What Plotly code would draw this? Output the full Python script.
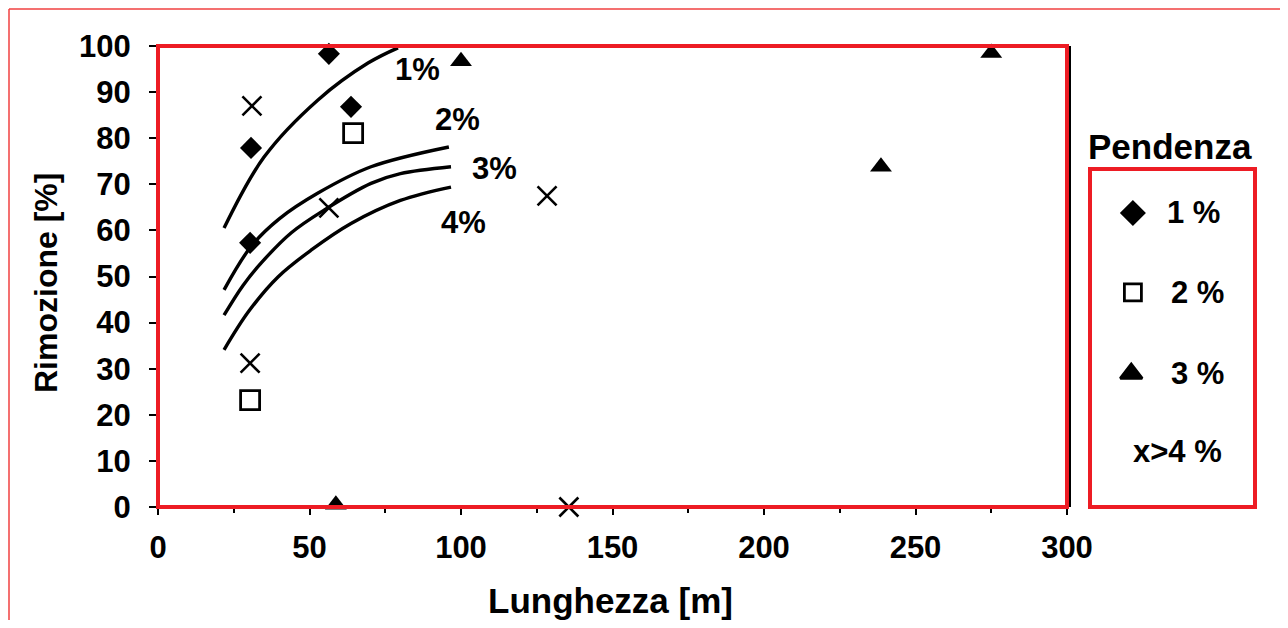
import plotly.graph_objects as go

# the page body adds an 8px margin, so the figure is slightly smaller than the window
OFF = 8
W, H = 1288 - 2 * OFF, 628 - 2 * OFF

# ---------------- data ----------------
s1_x = [56.4, 63.7, 30.7, 30.4]
s1_y = [98.3, 86.8, 77.9, 57.3]
s2_x = [64.4, 30.4]
s2_y = [81.1, 23.2]
s3_x = [100.0, 58.7, 238.6, 275.0]
s3_y = [96.7, 0.5, 73.8, 98.5]
s4_x = [31.0, 30.4, 56.4, 128.4, 135.6]
s4_y = [87.0, 31.2, 64.9, 67.5, 0.0]

c1_x = [21.8, 35.0, 52.8, 69.3, 79.2]
c1_y = [60.5, 75.9, 88.3, 96.3, 99.6]
c2_x = [21.8, 30.7, 40.0, 52.8, 70.3, 96.0]
c2_y = [47.1, 56.5, 62.5, 68.1, 73.8, 78.1]
c3_x = [21.8, 28.0, 34.0, 44.0, 54.8, 70.3, 80.0, 96.7]
c3_y = [41.6, 48.0, 52.9, 59.5, 64.4, 70.2, 72.3, 73.8]
c4_x = [21.8, 30.0, 39.6, 50.5, 63.7, 80.0, 96.7]
c4_y = [34.1, 42.5, 49.9, 55.7, 61.5, 66.5, 69.4]

curve_labels = ["1%", "2%", "3%", "4%"]
curve_label_x = [85.8, 99.0, 111.0, 100.7]
curve_label_y = [94.8, 84.0, 73.5, 61.8]

legend_labels = ["1 %", "2 %", "3 %", "x>4 %"]
x_ticks = [0, 50, 100, 150, 200, 250, 300]
y_ticks = [0, 10, 20, 30, 40, 50, 60, 70, 80, 90, 100]

RED = "#ED1C24"
FONT = "Liberation Sans, Arial, sans-serif"


def px(x):
    return (x - OFF) / W


def py(y):
    return 1 - (y - OFF) / H


fig = go.Figure()

# curves
for cx, cy in [(c1_x, c1_y), (c2_x, c2_y), (c3_x, c3_y), (c4_x, c4_y)]:
    fig.add_trace(go.Scatter(x=cx, y=cy, mode="lines",
                             line=dict(color="black", width=3.4, shape="spline", smoothing=1.0),
                             showlegend=False, hoverinfo="skip"))

# points
fig.add_trace(go.Scatter(x=s1_x, y=s1_y, mode="markers", cliponaxis=False,
                         marker=dict(symbol="diamond", size=17, color="black"),
                         showlegend=False))
fig.add_trace(go.Scatter(x=s2_x, y=s2_y, mode="markers", cliponaxis=False,
                         marker=dict(symbol="square-open", size=19, color="black",
                                     line=dict(width=2.8, color="black")),
                         showlegend=False))
fig.add_trace(go.Scatter(x=s3_x, y=s3_y, mode="markers", cliponaxis=False,
                         marker=dict(symbol="triangle-up", size=19, color="black"),
                         showlegend=False))
fig.add_trace(go.Scatter(x=s4_x, y=s4_y, mode="markers", cliponaxis=False,
                         marker=dict(symbol="x-thin-open", size=19, color="black",
                                     line=dict(width=2.6, color="black")),
                         showlegend=False))

# custom legend markers on secondary axes
leg_mx = [0.26, 0.26, 0.25]
leg_my = [0.87, 0.635, 0.395]
leg_sym = ["diamond", "square-open", "triangle-up"]
leg_size = [17, 17, 19]
for i in range(3):
    fig.add_trace(go.Scatter(x=[leg_mx[i]], y=[leg_my[i]], mode="markers",
                             xaxis="x2", yaxis="y2", cliponaxis=False,
                             marker=dict(symbol=leg_sym[i], size=leg_size[i], color="black",
                                         line=dict(width=2.8, color="black")),
                             showlegend=False, hoverinfo="skip"))

fig.update_layout(
    width=W, height=H, autosize=False,
    margin=dict(l=0, r=0, t=0, b=0, pad=0, autoexpand=False),
    paper_bgcolor="white", plot_bgcolor="white",
    showlegend=False,
    xaxis=dict(domain=[px(158), px(1067)], range=[0, 300], automargin=False,
               tickvals=x_ticks, ticktext=[str(v) for v in x_ticks],
               ticks="outside", ticklen=7, tickwidth=2, tickcolor="black",
               minor=dict(dtick=25, tick0=0, ticks="outside", ticklen=5, tickwidth=1.5, tickcolor="black"),
               showgrid=False, zeroline=False, showline=False,
               tickfont=dict(family=FONT, size=31, color="black", weight="bold"),
               ticklabelstandoff=6),
    yaxis=dict(domain=[py(507), py(46)], range=[0, 100], automargin=False,
               tickvals=y_ticks, ticktext=[str(v) for v in y_ticks],
               ticks="outside", ticklen=8, tickwidth=2, tickcolor="black",
               showgrid=False, zeroline=False, showline=False,
               tickfont=dict(family=FONT, size=31, color="black", weight="bold"),
               ticklabelstandoff=12),
    xaxis2=dict(domain=[px(1090), px(1255)], range=[0, 1], visible=False, anchor="y2",
                automargin=False),
    yaxis2=dict(domain=[py(507), py(169)], range=[0, 1], visible=False, anchor="x2",
                automargin=False),
)

shapes = [
    # black frame of the original chart peeking out on the right
    dict(type="line", xref="paper", yref="paper", x0=px(1070), x1=px(1070), y0=py(507), y1=py(46),
         line=dict(color="black", width=2)),
    # plot frame
    dict(type="rect", xref="paper", yref="paper", x0=px(158), x1=px(1067), y0=py(507), y1=py(46),
         line=dict(color=RED, width=4), layer="above"),
    # legend box
    dict(type="rect", xref="paper", yref="paper", x0=px(1090), x1=px(1255),
         y0=py(507), y1=py(169), line=dict(color=RED, width=4)),
    # thin outer frame
    dict(type="line", xref="paper", yref="paper", x0=px(9), x1=1.0, y0=py(9), y1=py(9),
         line=dict(color="#F04040", width=1.5)),
    dict(type="line", xref="paper", yref="paper", x0=px(9), x1=px(9), y0=py(9), y1=0,
         line=dict(color="#F04040", width=1.5)),
]
fig.update_layout(shapes=shapes)

ann = []
for t, x, y in zip(curve_labels, curve_label_x, curve_label_y):
    ann.append(dict(x=x, y=y, xref="x", yref="y", text=t, showarrow=False,
                    xanchor="center", yanchor="middle",
                    font=dict(family=FONT, size=31, color="black", weight="bold")))

ann.append(dict(x=px(610), y=py(600), xref="paper", yref="paper", text="Lunghezza [m]",
                xanchor="center", yanchor="middle", showarrow=False,
                font=dict(family=FONT, size=35, color="black", weight="bold")))
ann.append(dict(x=px(46), y=py(283), xref="paper", yref="paper", text="Rimozione [%]",
                xanchor="center", yanchor="middle", textangle=-90, showarrow=False,
                font=dict(family=FONT, size=32, color="black", weight="bold")))
ann.append(dict(x=px(1170), y=py(147), xref="paper", yref="paper", text="Pendenza",
                xanchor="center", yanchor="middle", showarrow=False,
                font=dict(family=FONT, size=35, color="black", weight="bold")))

leg_tx = [0.63, 0.65, 0.65, 0.53]
leg_ty = [0.87, 0.635, 0.395, 0.165]
for t, x, y in zip(legend_labels, leg_tx, leg_ty):
    ann.append(dict(x=x, y=y, xref="x2", yref="y2", text=t, showarrow=False,
                    xanchor="center", yanchor="middle",
                    font=dict(family=FONT, size=31, color="black", weight="bold")))

fig.update_layout(annotations=ann)

fig.write_html("out.html")
